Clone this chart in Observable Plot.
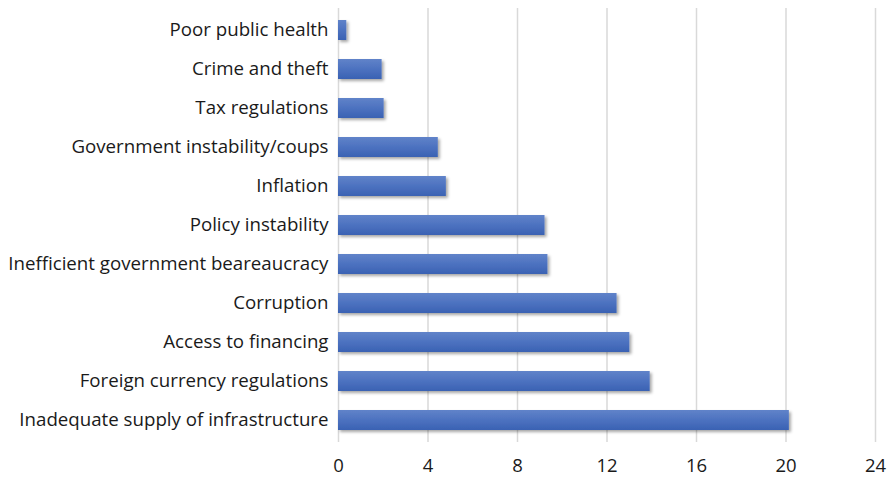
<!DOCTYPE html>
<html>
<head>
<meta charset="utf-8">
<script src="https://cdn.jsdelivr.net/npm/d3@7"></script>
<script src="https://cdn.jsdelivr.net/npm/@observablehq/plot@0.6"></script>
<style>
  body { margin: 0; background: #fff; }
  #chart svg { display: block; }
</style>
</head>
<body>
<div id="chart"></div>
<script>
const categories = [
  "Poor public health",
  "Crime and theft",
  "Tax regulations",
  "Government instability/coups",
  "Inflation",
  "Policy instability",
  "Inefficient government beareaucracy",
  "Corruption",
  "Access to financing",
  "Foreign currency regulations",
  "Inadequate supply of infrastructure"
];
const values = [0.37, 1.95, 2.04, 4.46, 4.82, 9.23, 9.36, 12.45, 13.02, 13.93, 20.15];
const xTicks = [0, 4, 8, 12, 16, 20, 24];

const data = categories.map((c, i) => ({category: c, value: values[i]}));

const chart = Plot.plot({
  width: 888,
  height: 477,
  marginLeft: 338,
  marginRight: 13,
  marginTop: 8,
  marginBottom: 35,
  style: {fontFamily: "'Open Sans', sans-serif", fontSize: "18.7px", color: "#1a1a1a", background: "#fff"},
  x: {domain: [0, 24], ticks: xTicks, label: null},
  y: {domain: categories, label: null, paddingInner: 0.49, paddingOuter: 0.245},
  marks: [
    Plot.gridX(xTicks, {stroke: "#d9d9d9", strokeOpacity: 1, strokeWidth: 1.5}),
    Plot.barX(data, {x: "value", y: "category", fill: "url(#barGrad)"}),
    Plot.axisX({ticks: xTicks, tickSize: 0, tickPadding: 16, fontSize: 18.5, label: null}),
    Plot.axisY({tickSize: 0, tickPadding: 10, fontSize: 18.7, label: null})
  ]
});

// gradient + soft shadow for bars
const svg = d3.select(chart);
const defs = svg.insert("defs", ":first-child");
const g = defs.append("linearGradient").attr("id", "barGrad").attr("x1", 0).attr("y1", 0).attr("x2", 0).attr("y2", 1);
g.append("stop").attr("offset", "0%").attr("stop-color", "#6083c9");
g.append("stop").attr("offset", "50%").attr("stop-color", "#4d72c0");
g.append("stop").attr("offset", "100%").attr("stop-color", "#3a62b3");
const f = defs.append("filter").attr("id", "barShadow").attr("x", "-5%").attr("y", "-20%").attr("width", "120%").attr("height", "160%");
f.append("feDropShadow").attr("dx", 2).attr("dy", 2).attr("stdDeviation", 1.5).attr("flood-color", "#000").attr("flood-opacity", 0.35);
svg.selectAll("g[aria-label='bar']").attr("filter", "url(#barShadow)");

document.getElementById("chart").appendChild(chart);
</script>
</body>
</html>
